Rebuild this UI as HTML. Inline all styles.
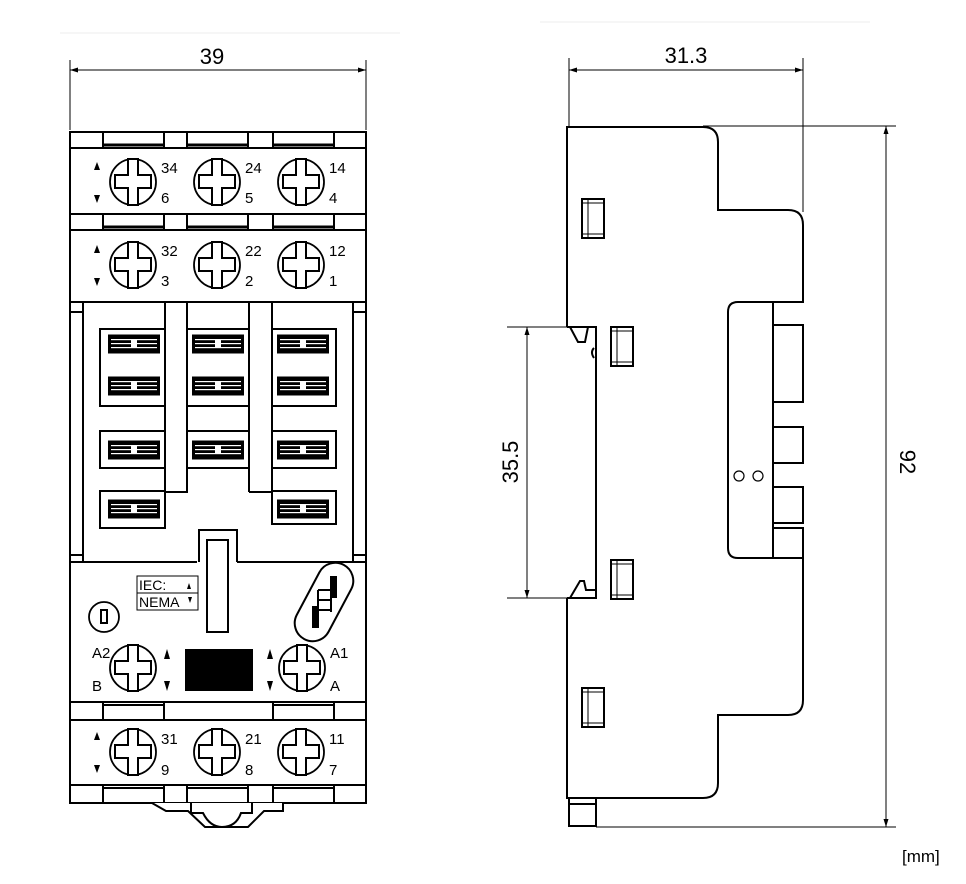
<!DOCTYPE html>
<html><head><meta charset="utf-8"><style>
html,body{margin:0;padding:0;background:#fff;}
svg{display:block;}
text{font-family:"Liberation Sans",Arial,sans-serif;fill:#000;}
</style></head><body>
<svg width="966" height="884" viewBox="0 0 966 884" xmlns="http://www.w3.org/2000/svg">
<defs>
<g id="scr">
<circle r="23" fill="#fff" stroke="#000" stroke-width="1.8"/>
<polygon points="-5,-23 5,-23 5,-7 18,-7 18,6 5,6 5,23 -5,23 -5,6 -18,6 -18,-7 -5,-7" fill="#fff" stroke="#000" stroke-width="2"/>
</g>
<g id="ct">
<rect x="-26" y="-9.5" width="52" height="19" fill="#000"/>
<rect x="-23" y="-5" width="46" height="1.2" fill="#fff"/>
<rect x="-23" y="-1" width="46" height="1.2" fill="#fff"/>
<rect x="-23" y="3" width="46" height="1.2" fill="#fff"/>
<rect x="-3" y="-4" width="6" height="8" fill="#fff"/>
</g>
<g id="win">
<rect x="0" y="0" width="22" height="39" fill="#fff" stroke="#000" stroke-width="2"/>
<line x1="6" y1="1" x2="6" y2="38" stroke="#000" stroke-width="1"/>
<line x1="1" y1="4" x2="21" y2="4" stroke="#000" stroke-width="1"/>
<line x1="1" y1="35" x2="21" y2="35" stroke="#000" stroke-width="1"/>
</g>
</defs>
<line x1="60" y1="33" x2="400" y2="33" stroke="#eee" stroke-width="1"/>
<line x1="540" y1="22" x2="870" y2="22" stroke="#eee" stroke-width="1"/>

<!-- ============ LEFT VIEW ============ -->
<g stroke="#000" fill="none">
<line x1="70" y1="60" x2="70" y2="130" stroke-width="1"/>
<line x1="366" y1="60" x2="366" y2="130" stroke-width="1"/>
<line x1="70" y1="70" x2="366" y2="70" stroke-width="1"/>
</g>
<polygon points="70,70 78,67.5 78,72.5" fill="#000"/>
<polygon points="366,70 358,67.5 358,72.5" fill="#000"/>
<text x="212" y="64" font-size="22" text-anchor="middle">39</text>

<g stroke="#000" stroke-width="2" fill="none">
<rect x="70" y="132" width="296" height="671" fill="#fff"/>
<line x1="70" y1="148" x2="366" y2="148"/>
<line x1="70" y1="214" x2="366" y2="214"/>
<line x1="70" y1="230" x2="366" y2="230"/>
<line x1="70" y1="302" x2="366" y2="302"/>
<line x1="70" y1="562" x2="197" y2="562"/>
<line x1="237" y1="562" x2="366" y2="562"/>
<line x1="70" y1="702" x2="366" y2="702"/>
<line x1="70" y1="720" x2="366" y2="720"/>
<line x1="70" y1="785" x2="366" y2="785"/>
</g>
<g stroke="#000" stroke-width="2" fill="none">
<path d="M103,132V148M164,132V148M187,132V148M248,132V148M273,132V148M334,132V148"/>
<path d="M103,145H164M187,145H248M273,145H334" stroke-width="3"/>
<path d="M103,214V230M164,214V230M187,214V230M248,214V230M273,214V230M334,214V230"/>
<path d="M103,227H164M187,227H248M273,227H334" stroke-width="3"/>
<path d="M103,702V720M164,702V720M273,702V720M334,702V720"/>
<path d="M103,705H164M273,705H334" stroke-width="2"/>
<path d="M103,785V803M164,785V803M187,785V803M248,785V803M273,785V803M334,785V803"/>
<path d="M103,788H164M187,788H248M273,788H334" stroke-width="2"/>
</g>
<g stroke="#000" stroke-width="2" fill="none">
<line x1="83" y1="302" x2="83" y2="562"/>
<line x1="353" y1="302" x2="353" y2="562"/>
<line x1="70" y1="312" x2="83" y2="312"/>
<line x1="353" y1="312" x2="366" y2="312"/>
<line x1="70" y1="555" x2="83" y2="555"/>
<line x1="353" y1="555" x2="366" y2="555"/>
<path d="M165,302V492M187,302V492H165"/>
<path d="M249,302V492M272,302V492H249"/>
<rect x="100" y="329" width="65" height="77"/>
<rect x="187" y="329" width="62" height="77"/>
<rect x="272" y="329" width="64" height="77"/>
<rect x="100" y="431" width="65" height="37"/>
<rect x="187" y="431" width="62" height="37"/>
<rect x="272" y="431" width="64" height="37"/>
<rect x="100" y="491" width="65" height="37"/>
<rect x="272" y="491" width="64" height="33"/>
<path d="M199,562V530H237V562"/>
<rect x="207" y="540" width="21" height="92" fill="#fff"/>
</g>
<use href="#ct" x="134" y="344"/><use href="#ct" x="218" y="344"/><use href="#ct" x="303" y="344"/>
<use href="#ct" x="134" y="386"/><use href="#ct" x="218" y="386"/><use href="#ct" x="303" y="386"/>
<use href="#ct" x="134" y="450"/><use href="#ct" x="218" y="450"/><use href="#ct" x="303" y="450"/>
<use href="#ct" x="134" y="509"/><use href="#ct" x="303" y="509"/>

<use href="#scr" x="133" y="182"/><use href="#scr" x="217" y="182"/><use href="#scr" x="301" y="182"/>
<use href="#scr" x="133" y="265"/><use href="#scr" x="217" y="265"/><use href="#scr" x="301" y="265"/>
<use href="#scr" x="133" y="668"/><use href="#scr" x="302" y="668"/>
<use href="#scr" x="133" y="752"/><use href="#scr" x="217" y="752"/><use href="#scr" x="301" y="752"/>

<g font-size="15">
<text x="161" y="173">34</text><text x="161" y="203">6</text>
<text x="245" y="173">24</text><text x="245" y="203">5</text>
<text x="329" y="173">14</text><text x="329" y="203">4</text>
<text x="161" y="256">32</text><text x="161" y="286">3</text>
<text x="245" y="256">22</text><text x="245" y="286">2</text>
<text x="329" y="256">12</text><text x="329" y="286">1</text>
<text x="161" y="744">31</text><text x="161" y="775">9</text>
<text x="245" y="744">21</text><text x="245" y="775">8</text>
<text x="329" y="744">11</text><text x="329" y="775">7</text>
<text x="92" y="658">A2</text><text x="92" y="691">B</text>
<text x="330" y="658">A1</text><text x="330" y="691">A</text>
</g>
<g fill="#000">
<polygon points="97,162 94,170 100,170"/><polygon points="97,203 94,195 100,195"/>
<polygon points="97,245 94,253 100,253"/><polygon points="97,286 94,278 100,278"/>
<polygon points="97,732 94,740 100,740"/><polygon points="97,773 94,765 100,765"/>
<polygon points="167,649 164,659 170,659"/><polygon points="167,691 164,681 170,681"/>
<polygon points="270,649 267,659 273,659"/><polygon points="270,691 267,681 273,681"/>
</g>
<rect x="185" y="649" width="68" height="42" fill="#000"/>
<rect x="137" y="576" width="61" height="34" fill="#fff" stroke="#000" stroke-width="1"/>
<line x1="137" y1="593" x2="198" y2="593" stroke="#000" stroke-width="1"/>
<text x="139" y="590" font-size="14">IEC:</text>
<text x="139" y="607" font-size="14">NEMA</text>
<polygon points="189,583 187,589 191,589" fill="#000"/>
<polygon points="190,603 188,597 192,597" fill="#000"/>
<circle cx="104" cy="617" r="15" fill="#fff" stroke="#000" stroke-width="1.8"/>
<rect x="101" y="610" width="6" height="13" fill="#fff" stroke="#000" stroke-width="2"/>
<g transform="translate(324,602) rotate(-62)">
<rect x="-42" y="-18" width="84" height="36" rx="18" fill="#fff" stroke="#000" stroke-width="2"/>
</g>
<g stroke="#000" stroke-width="2" fill="none">
<rect x="331" y="577" width="5" height="20" fill="#000"/>
<rect x="313" y="607" width="5" height="20" fill="#000"/>
<path d="M318,590H331M318,600H331M318,610H331M318,590V615M331,590V612"/>
</g>
<g stroke="#000" stroke-width="2" fill="#fff">
<path d="M152,803L166,811H188L205,827H248L264,811H283V803"/>
<path d="M191,803V813H203Q210,827 222,827Q236,827 241,813H252V803" fill="none"/>
</g>

<!-- ============ RIGHT VIEW ============ -->
<g stroke="#000" stroke-width="1" fill="none">
<line x1="569" y1="58" x2="569" y2="127"/>
<line x1="803" y1="58" x2="803" y2="212"/>
<line x1="569" y1="70" x2="803" y2="70"/>
<line x1="703" y1="126" x2="896" y2="126"/>
<line x1="596" y1="827" x2="896" y2="827"/>
<line x1="886" y1="126" x2="886" y2="827"/>
<line x1="507" y1="327" x2="567" y2="327"/>
<line x1="507" y1="598" x2="567" y2="598"/>
<line x1="527" y1="327" x2="527" y2="598"/>
</g>
<g fill="#000">
<polygon points="569,70 577,67.5 577,72.5"/><polygon points="803,70 795,67.5 795,72.5"/>
<polygon points="886,126 883.5,134 888.5,134"/><polygon points="886,827 883.5,819 888.5,819"/>
<polygon points="527,327 524.5,335 529.5,335"/><polygon points="527,598 524.5,590 529.5,590"/>
</g>
<text x="686" y="63" font-size="22" text-anchor="middle">31.3</text>
<text transform="translate(900,462) rotate(90)" font-size="22" text-anchor="middle">92</text>
<text transform="translate(518,462) rotate(-90)" font-size="22" text-anchor="middle">35.5</text>
<text x="902" y="862" font-size="17">[mm]</text>

<g stroke="#000" stroke-width="2" fill="none">
<path d="M567,327V127H703Q718,127 718,142V210H788Q803,210 803,225V302H738Q728,302 728,312V548Q728,558 738,558H803V700Q803,715 788,715H718V783Q718,798 703,798H567V598"/>
<path d="M567,327H596V598H567"/>
<path d="M570,327L578,342H585L588,327" />
<path d="M594,348Q590,352 594,358"/>
<path d="M570,598L580,581H584L586,590H596"/>
<line x1="773" y1="302" x2="773" y2="558"/>
<rect x="773" y="325" width="30" height="77"/>
<rect x="773" y="427" width="30" height="36"/>
<rect x="773" y="487" width="30" height="36"/>
<rect x="773" y="528" width="30" height="30"/>
<rect x="569" y="798" width="27" height="28"/>
<line x1="569" y1="804" x2="596" y2="804"/>
</g>
<circle cx="739" cy="476" r="5" fill="none" stroke="#000" stroke-width="1.2"/>
<circle cx="758" cy="476" r="5" fill="none" stroke="#000" stroke-width="1.2"/>
<use href="#win" x="582" y="199"/>
<use href="#win" x="611" y="327"/>
<use href="#win" x="611" y="560"/>
<use href="#win" x="582" y="688"/>
</svg>
</body></html>
